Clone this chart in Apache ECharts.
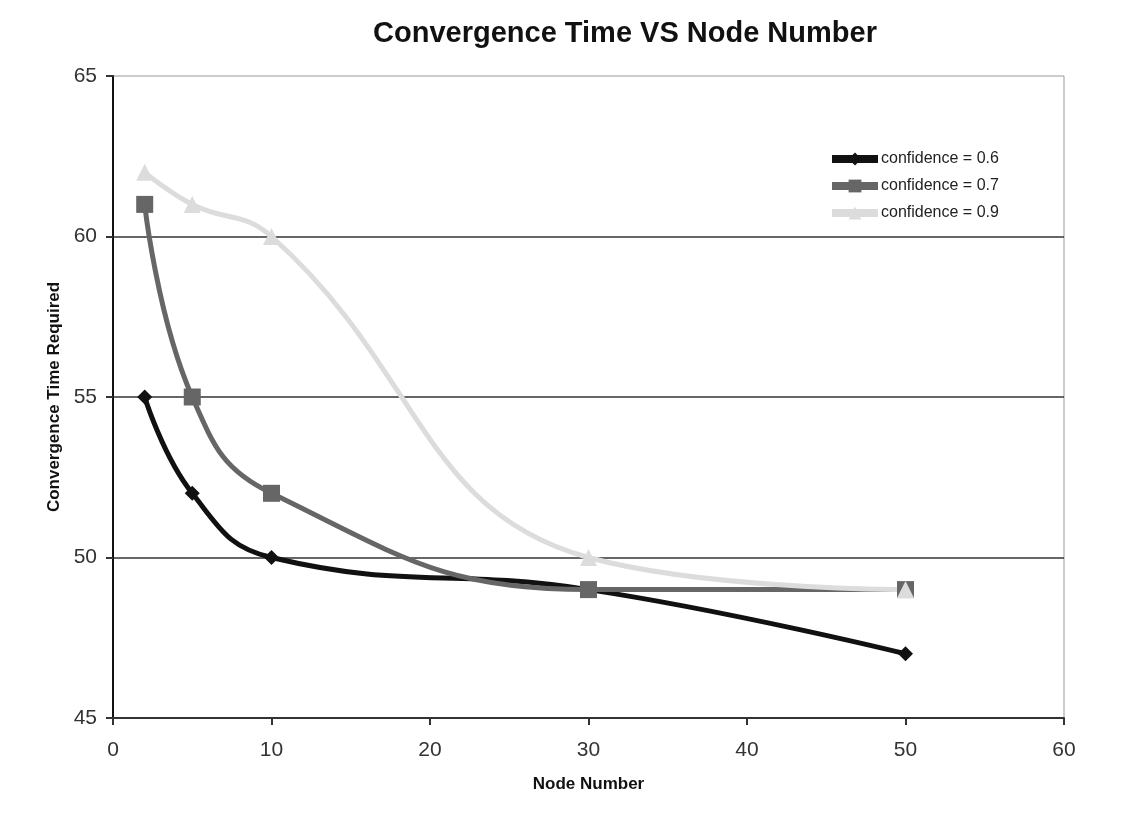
<!DOCTYPE html>
<html>
<head>
<meta charset="utf-8">
<script src="https://cdn.jsdelivr.net/npm/echarts@6/dist/echarts.min.js"></script>
<style>
  html, body { margin: 0; padding: 0; background: #fff; }
  #chart { width: 1144px; height: 826px; }
</style>
</head>
<body>
<div id="chart"></div>
<script>
// data
var nodeNumbers = [2, 5, 10, 30, 50];
var conf06 = [55, 52, 50, 49, 47];
var conf07 = [61, 55, 52, 49, 49];
var conf09 = [62, 61, 60, 50, 49];
var seriesNames = ["confidence = 0.6", "confidence = 0.7", "confidence = 0.9"];
var colors = ["#111111", "#666666", "#dcdcdc"];

function pairs(ys) {
  return nodeNumbers.map(function (x, i) { return [x, ys[i]]; });
}

var chart = echarts.init(document.getElementById("chart"));

function lineSeries(idx, data, symbol, size) {
  return {
    name: seriesNames[idx],
    type: "line",
    data: pairs(data),
    smooth: 0.45,
    symbol: symbol,
    symbolSize: size,
    lineStyle: { color: colors[idx], width: 5 },
    itemStyle: { color: colors[idx] },
    z: 3
  };
}

chart.setOption({
  animation: false,
  backgroundColor: "#fff",
  textStyle: { fontFamily: "Liberation Sans, Arial, sans-serif" },
  title: {
    text: "Convergence Time VS Node Number",
    left: 620,
    top: 14,
    textAlign: "center",
    textStyle: { fontSize: 29, fontWeight: "bold", color: "#111" }
  },
  legend: {
    orient: "vertical",
    left: 823,
    top: 146,
    itemWidth: 46,
    itemHeight: 16,
    itemGap: 11,
    textStyle: { fontSize: 16, color: "#222", padding: [0, 0, 0, -2] },
    data: seriesNames.map(function (n) {
      return { name: n, lineStyle: { width: 8 } };
    })
  },
  grid: { left: 113, right: 80, top: 76, bottom: 108, show: true, borderColor: "#999", borderWidth: 1 },
  xAxis: {
    type: "value",
    min: 0,
    max: 60,
    interval: 10,
    name: "Node Number",
    nameLocation: "middle",
    nameGap: 58,
    nameTextStyle: { fontSize: 17, fontWeight: "bold", color: "#111" },
    axisLine: { lineStyle: { color: "#333", width: 2 } },
    axisTick: { show: true, inside: false, length: 7, lineStyle: { color: "#333", width: 2 } },
    axisLabel: { fontSize: 21, color: "#333", margin: 22 },
    splitLine: { show: false }
  },
  yAxis: {
    type: "value",
    min: 45,
    max: 65,
    interval: 5,
    name: "Convergence Time Required",
    nameLocation: "middle",
    nameGap: 48,
    nameTextStyle: { fontSize: 17, fontWeight: "bold", color: "#111" },
    axisLine: { show: true, onZero: false, lineStyle: { color: "#111", width: 2 } },
    axisTick: { show: true, inside: false, length: 7, lineStyle: { color: "#333", width: 2 } },
    axisLabel: { fontSize: 21, color: "#333", margin: 16 },
    splitLine: { show: true, showMaxLine: false, lineStyle: { color: "#333", width: 1.5 } }
  },
  series: [
    lineSeries(0, conf06, "diamond", 15),
    lineSeries(1, conf07, "rect", 17),
    lineSeries(2, conf09, "triangle", 17)
  ]
});
</script>
</body>
</html>
